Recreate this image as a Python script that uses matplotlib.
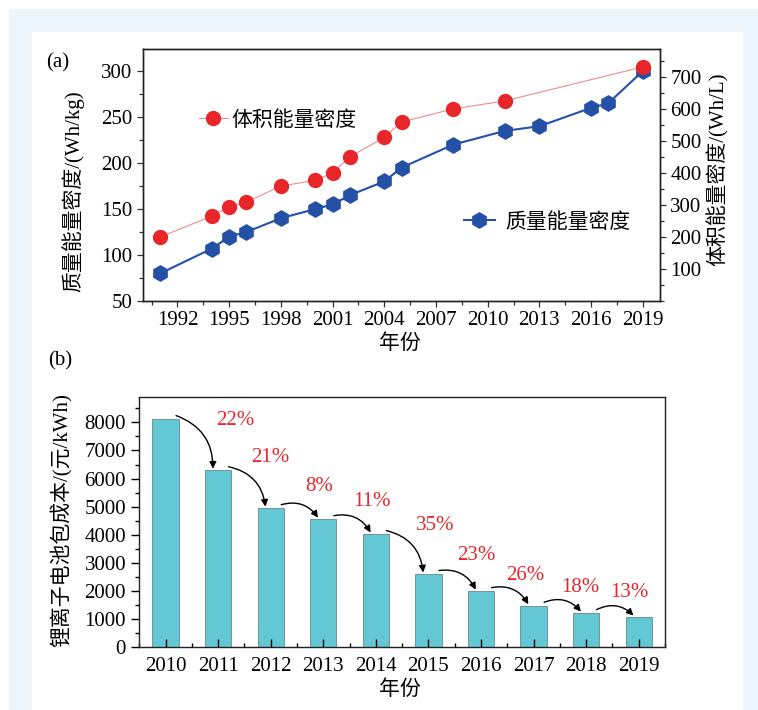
import matplotlib
matplotlib.use('Agg')
import matplotlib.pyplot as plt
from matplotlib.patches import Rectangle
from matplotlib.ticker import MultipleLocator

plt.rcParams['font.family'] = ['Liberation Serif', 'Noto Sans CJK SC']
plt.rcParams['axes.unicode_minus'] = False

# (a) energy density of Li-ion cells
vol_years = [1991, 1994, 1995, 1996, 1998, 2000, 2001, 2002, 2004, 2005, 2008, 2011, 2019]
vol_density = [200, 265, 294, 309, 359, 377, 400, 450, 511, 559, 600, 625, 731]  # Wh/L
grav_years = [1991, 1994, 1995, 1996, 1998, 2000, 2001, 2002, 2004, 2005,
              2008, 2011, 2013, 2016, 2017, 2019]
grav_density = [80, 107, 120, 125, 140, 150, 155, 165, 180, 195,
                220, 235, 240, 260, 265, 300]  # Wh/kg

# (b) pack cost
cost_years = [2010, 2011, 2012, 2013, 2014, 2015, 2016, 2017, 2018, 2019]
pack_cost = [8120, 6300, 4950, 4560, 4030, 2610, 2000, 1480, 1220, 1080]  # yuan/kWh
drop_labels = ['22%', '21%', '8%', '11%', '35%', '23%', '26%', '18%', '13%']
# where the red percentage texts sit (data coords of panel b)
drop_label_xy = [(2011.32, 8080), (2012.0, 6760), (2012.93, 5710), (2013.93, 5200),
                 (2015.12, 4340), (2015.92, 3250), (2016.84, 2540), (2017.88, 2130),
                 (2018.82, 1960)]

W, H = 758, 710
fig = plt.figure(figsize=(W / 100, H / 100), dpi=100)
fig.patch.set_facecolor('white')


def px_rect(x0, y0, x1, y1, color):
    fig.patches.append(Rectangle((x0 / W, 1 - y1 / H), (x1 - x0) / W, (y1 - y0) / H,
                                 transform=fig.transFigure, facecolor=color,
                                 edgecolor='none', zorder=-10))


def px_text(x, y, s, **kw):
    fig.text(x / W, 1 - y / H, s, **kw)


# page background
px_rect(9, 9, W, H, '#eef6fd')
px_rect(32, 32, 743, H, 'white')

red = '#e8262a'
red_line = '#f08c8c'
blue = '#2450a6'
fs = 15

# ---------------- (a) ----------------
ax1 = fig.add_axes([143 / W, 1 - 301 / H, 517 / W, 252 / H])
ax2 = ax1.twinx()

ln_b, = ax1.plot(grav_years, grav_density, color=blue, lw=1.5, marker='h',
                 ms=11, mfc=blue, mec=blue, label='质量能量密度')
ln_r, = ax2.plot(vol_years, vol_density, color=red_line, lw=0.8, marker='o',
                 ms=10, mfc=red, mec=red, label='体积能量密度')

ax1.set_xlim(1990, 2020)
ax1.set_ylim(50, 324)
ax2.set_ylim(0, 787)
ax1.xaxis.set_major_locator(MultipleLocator(3))
ax1.xaxis.set_minor_locator(MultipleLocator(1.5))
ax1.yaxis.set_major_locator(MultipleLocator(50))
ax1.yaxis.set_minor_locator(MultipleLocator(25))
ax2.yaxis.set_minor_locator(MultipleLocator(50))
ax2.set_yticks([100, 200, 300, 400, 500, 600, 700])

for ax in (ax1, ax2):
    ax.tick_params(which='both', direction='out', labelsize=fs, width=0.9, color='#333333')
    ax.tick_params(which='major', length=4.5, pad=3)
    ax.tick_params(which='minor', length=3)
    for sp in ax.spines.values():
        sp.set_linewidth(1.0)
        sp.set_color('#222222')

leg_r = ax2.legend(handles=[ln_r], loc='center left', bbox_to_anchor=(0.108, 0.715),
                   frameon=False, borderpad=0, borderaxespad=0, handlelength=1.4,
                   handletextpad=0.15, prop={'size': fs})
ax2.add_artist(leg_r)
ax2.legend(handles=[ln_b], loc='center left', bbox_to_anchor=(0.62, 0.311),
           frameon=False, borderpad=0, borderaxespad=0, handlelength=1.5,
           handletextpad=0.5, prop={'size': fs})

px_text(58, 63, '(a)', fontsize=fs, ha='center', va='center')
px_text(73, 191, '质量能量密度/(Wh/kg)', fontsize=fs, rotation=90, ha='center', va='center')
px_text(718, 169, '体积能量密度/(Wh/L)', fontsize=fs, rotation=90, ha='center', va='center')
px_text(400, 344, '年份', fontsize=fs, ha='center', va='center')

# ---------------- (b) ----------------
bx = fig.add_axes([139.3 / W, 1 - 647.3 / H, 525.7 / W, 250 / H])
bx.bar(cost_years, pack_cost, width=0.5, color='#63c8d3', edgecolor='#55777b', linewidth=0.5)
bx.set_xlim(2009.5, 2019.5)
bx.set_ylim(0, 8890)
bx.set_xticks(cost_years)
bx.xaxis.set_minor_locator(MultipleLocator(0.5))
bx.yaxis.set_major_locator(MultipleLocator(1000))
bx.yaxis.set_minor_locator(MultipleLocator(500))
bx.tick_params(axis='x', which='both', direction='in', labelsize=fs, width=1.0, pad=7)
bx.tick_params(axis='x', which='major', length=6)
bx.tick_params(axis='x', which='minor', length=3)
bx.tick_params(axis='y', which='both', direction='out', labelsize=fs, width=1.0)
bx.tick_params(axis='y', which='major', length=6)
bx.tick_params(axis='y', which='minor', length=3)
for sp in bx.spines.values():
    sp.set_linewidth(1.0)
    sp.set_color('#222222')

for i, lab in enumerate(drop_labels):
    x0, y0 = cost_years[i], pack_cost[i]
    x1, y1 = cost_years[i + 1], pack_cost[i + 1]
    bx.annotate('', xy=(x1 - 0.1, y1 + 50), xytext=(x0 + 0.2, y0 + 120),
                arrowprops=dict(arrowstyle='-|>', color='black', lw=1.0,
                                mutation_scale=10, shrinkA=0, shrinkB=0,
                                connectionstyle='arc3,rad=-0.35'))
    bx.text(drop_label_xy[i][0], drop_label_xy[i][1], lab, color=red, fontsize=fs,
            ha='center', va='center')

px_text(60, 361, '(b)', fontsize=fs, ha='center', va='center')
px_text(62, 520, '锂离子电池包成本/(元/kWh)', fontsize=fs, rotation=90, ha='center', va='center')
px_text(400, 690, '年份', fontsize=fs, ha='center', va='center')

fig.savefig('out.png', dpi=100)
